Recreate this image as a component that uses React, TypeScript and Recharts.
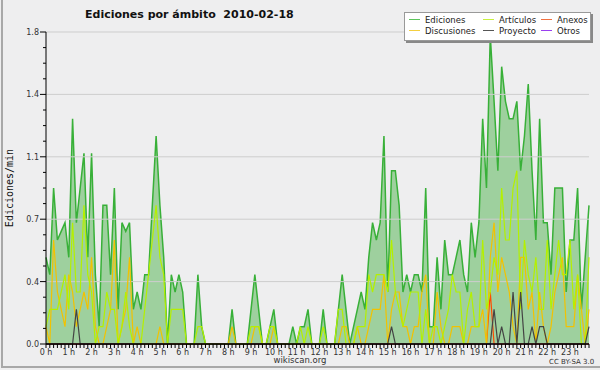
import { ComposedChart, Area, Line, XAxis, YAxis, ReferenceLine } from 'recharts';

// Ediciones por minuto, una muestra cada 10 minutos (144 por día)
const ediciones = [
  0.5, 0.4, 0.9, 0.6, 0.65, 0.7, 0.5, 1.3, 0.7, 0.9,
  1.1, 0.5, 1.1, 0.4, 0.1, 0.8, 0.8, 0.4, 0.9, 0.2,
  0.7, 0.65, 0.7, 0.2, 0.3, 0.2, 0.4, 0.4, 0.8, 1.2,
  0.8, 0.5, 0, 0.4, 0.3, 0.4, 0.3, 0, 0, 0,
  0.4, 0.1, 0, 0, 0, 0, 0, 0, 0, 0.2,
  0, 0, 0, 0, 0.2, 0.4, 0.2, 0, 0, 0.1,
  0.2, 0, 0, 0, 0, 0.1, 0, 0.1, 0.1, 0.2,
  0, 0, 0, 0.2, 0, 0, 0, 0.2, 0.4, 0.2,
  0, 0.1, 0.2, 0.3, 0.2, 0.5, 0.7, 0.6, 0.7, 1.2,
  0.3, 1.0, 1.0, 0.8, 0.3, 0.4, 0.3, 0.4, 0.4, 0.3,
  0.9, 0.1, 0.1, 0.5, 0.2, 0.6, 0.4, 0.4, 0.5, 0.6,
  0.4, 0.3, 0.7, 0.5, 0.7, 1.3, 0.9, 1.78, 1.4, 1.0,
  1.6, 1.4, 1.3, 1.3, 1.4, 1.0, 1.2, 1.5, 1.0, 0.6,
  1.3, 0.7, 0.7, 0.4, 0.9, 0.9, 0.9, 0.3, 0.6, 0.6,
  0.9, 0.2, 0.5, 0.8,
];

const articulos = [
  0.1, 0.2, 0.2, 0.2, 0.3, 0.4, 0.2, 0.7, 0.3, 0.3,
  0.8, 0.4, 0.3, 0, 0.1, 0.1, 0.3, 0.2, 0.2, 0,
  0.1, 0.3, 0.1, 0, 0, 0, 0.2, 0.4, 0.6, 0.8,
  0.5, 0.4, 0, 0.2, 0.2, 0.2, 0.2, 0, 0, 0,
  0.1, 0.1, 0, 0, 0, 0, 0, 0, 0, 0,
  0, 0, 0, 0, 0.1, 0.1, 0.1, 0, 0, 0.1,
  0.1, 0, 0, 0, 0, 0, 0, 0.1, 0, 0.1,
  0, 0, 0, 0.1, 0, 0, 0, 0.2, 0.2, 0,
  0, 0, 0.1, 0.1, 0.1, 0.4, 0.3, 0.4, 0.4, 0.4,
  0.3, 0.6, 0.3, 0.2, 0.1, 0.2, 0.3, 0.3, 0.3, 0,
  0.2, 0, 0.1, 0.1, 0, 0.1, 0.2, 0.4, 0.3, 0.3,
  0, 0.2, 0.3, 0.1, 0.1, 0.6, 0.2, 0.3, 0.5, 0.4,
  0.9, 0.6, 0.6, 0.9, 1.0, 0.2, 0.6, 0.4, 0.3, 0.5,
  0.2, 0.2, 0.6, 0.2, 0.4, 0.6, 0.4, 0.4, 0.6, 0.2,
  0.4, 0, 0, 0.5,
];

const discusiones = [
  0.1, 0, 0.6, 0.3, 0.2, 0.1, 0.4, 0.3, 0.1, 0.2,
  0.3, 0.2, 0.5, 0.1, 0, 0, 0.1, 0.2, 0.6, 0,
  0.1, 0.2, 0.5, 0, 0.1, 0, 0, 0, 0, 0,
  0.1, 0, 0, 0, 0, 0, 0, 0, 0, 0,
  0, 0, 0, 0, 0, 0, 0, 0, 0, 0.1,
  0, 0, 0, 0, 0, 0.1, 0.1, 0, 0, 0,
  0.1, 0, 0, 0, 0, 0, 0, 0, 0, 0,
  0, 0, 0, 0, 0, 0, 0, 0, 0.1, 0.1,
  0, 0, 0.1, 0, 0, 0.1, 0.2, 0.2, 0.2, 0.4,
  0, 0.2, 0.3, 0.3, 0.1, 0.1, 0, 0.1, 0.1, 0.3,
  0.4, 0, 0, 0.3, 0.1, 0, 0, 0.1, 0.1, 0.1,
  0, 0, 0.1, 0.1, 0.1, 0.2, 0, 0.5, 0.7, 0.3,
  0.5, 0.4, 0.3, 0.1, 0, 0.5, 0.5, 0.2, 0.3, 0,
  0.3, 0.1, 0, 0.1, 0.3, 0.4, 0.5, 0.1, 0.1, 0.1,
  0.4, 0.2, 0, 0.2,
];

// series casi vacías: solo se anotan las muestras distintas de cero
const anexosSpikes: Record<number, number> = { 117: 0.3 };
const proyectoSpikes: Record<number, number> = {
  8: 0.2, 91: 0.1, 118: 0.2, 120: 0.1, 123: 0.3, 125: 0.3, 128: 0.1, 130: 0.1, 131: 0.1, 143: 0.1,
};
const otrosSpikes: Record<number, number> = {};

const hourLabels = [
  '0 h', '1 h', '2 h', '3 h', '4 h', '5 h', '6 h', '7 h', '8 h', '9 h', '10 h', '11 h',
  '12 h', '13 h', '14 h', '15 h', '16 h', '17 h', '18 h', '19 h', '20 h', '21 h', '22 h', '23 h',
];
const yTicks = [
  0, 0.09, 0.18, 0.27, 0.36, 0.45, 0.54, 0.63, 0.72, 0.81, 0.9,
  0.99, 1.08, 1.17, 1.26, 1.35, 1.44, 1.53, 1.62, 1.71, 1.8,
];
const gridValues = [0.36, 0.72, 1.08, 1.44, 1.8];

const legendItems = [
  { name: 'Ediciones', color: '#5cc45c' },
  { name: 'Artículos', color: '#c8f040' },
  { name: 'Anexos', color: '#f07040' },
  { name: 'Discusiones', color: '#f4cf40' },
  { name: 'Proyecto', color: '#555555' },
  { name: 'Otros', color: '#9a40f0' },
];

const data = ediciones.map((v, i) => ({
  i,
  ediciones: v,
  articulos: articulos[i],
  discusiones: discusiones[i],
  anexos: anexosSpikes[i] ?? 0,
  proyecto: proyectoSpikes[i] ?? 0,
  otros: otrosSpikes[i] ?? 0,
}));
const xTicks = data.map((d) => d.i);

const SANS = '"DejaVu Sans", sans-serif';
const PLOT_LEFT = 46;
const PLOT_BOTTOM = 344;

function HourTick({ x, payload }: any) {
  const i = payload.value;
  const major = i % 6 === 0;
  return (
    <g>
      <line x1={x} x2={x} y1={PLOT_BOTTOM} y2={PLOT_BOTTOM + 4} stroke="#000" />
      {major && (
        <text x={x} y={PLOT_BOTTOM + 10.5} textAnchor="middle" fontSize={8} fontFamily={SANS} fill="#333">
          {hourLabels[i / 6]}
        </text>
      )}
    </g>
  );
}

function ValueTick({ y, payload }: any) {
  const k = Math.round(payload.value / 0.09);
  const major = k % 4 === 0;
  return (
    <g>
      <line x1={PLOT_LEFT - (major ? 6 : 3)} x2={PLOT_LEFT} y1={y} y2={y} stroke="#000" />
      {major && (
        <text x={39} y={y + 3} textAnchor="end" fontSize={8} fontFamily={SANS} fill="#333">
          {payload.value.toFixed(1)}
        </text>
      )}
    </g>
  );
}

export default function App() {
  return (
    <div style={{ position: 'absolute', left: 0, top: 0, width: 600, height: 370, background: '#eeeeef', overflow: 'hidden', fontFamily: SANS }}>
      <ComposedChart
        width={600}
        height={370}
        data={data}
        margin={{ top: 32, right: 11, bottom: 0, left: 0 }}
        style={{ position: 'absolute', left: 0, top: 0 }}
      >
        {gridValues.map((v) => (
          <ReferenceLine key={v} y={v} stroke="#cdcdcd" strokeWidth={1} />
        ))}
        <XAxis
          type="number"
          dataKey="i"
          domain={[0, 143]}
          ticks={xTicks}
          interval={0}
          tick={<HourTick />}
          tickLine={false}
          axisLine={{ stroke: '#000' }}
          height={26}
        />
        <YAxis
          type="number"
          domain={[0, 1.8]}
          ticks={yTicks}
          interval={0}
          tick={<ValueTick />}
          tickLine={false}
          axisLine={{ stroke: '#000' }}
          width={46}
        />
        <Area
          type="linear"
          dataKey="ediciones"
          stroke="#38b038"
          strokeWidth={1.5}
          fill="#3cab3c"
          fillOpacity={0.45}
          isAnimationActive={false}
        />
        <Line type="linear" dataKey="otros" stroke="#9a40f0" strokeWidth={1} dot={false} isAnimationActive={false} />
        <Line type="linear" dataKey="anexos" stroke="#ff4a00" strokeWidth={1.2} dot={false} isAnimationActive={false} />
        <Line type="linear" dataKey="discusiones" stroke="#f2c200" strokeWidth={1.2} dot={false} isAnimationActive={false} />
        <Line type="linear" dataKey="articulos" stroke="#b4f000" strokeWidth={1.2} dot={false} isAnimationActive={false} />
        <Line type="linear" dataKey="proyecto" stroke="#444444" strokeWidth={1.2} dot={false} isAnimationActive={false} />
        <ReferenceLine y={0} stroke="#000" strokeWidth={1} />
      </ComposedChart>

      <div style={{ position: 'absolute', left: 85, top: 8, fontSize: 11, fontWeight: 'bold', whiteSpace: 'pre', color: '#111' }}>
        {'Ediciones por ámbito  2010-02-18'}
      </div>

      <div
        style={{
          position: 'absolute', left: 9, top: 188, fontSize: 10, fontFamily: '"DejaVu Sans Mono", monospace',
          transform: 'translate(-50%, -50%) rotate(-90deg)', whiteSpace: 'nowrap', color: '#111',
        }}
      >
        Ediciones/min
      </div>

      <div
        style={{
          position: 'absolute', left: 404, top: 12, width: 185, height: 27, background: '#fff',
          border: '1px solid #999', boxShadow: '2px 2px 0 #888',
        }}
      >
        {legendItems.map((it, k) => {
          const col = k % 3;
          const row = Math.floor(k / 3);
          const lineX = [4, 78, 136][col];
          return (
            <div key={it.name} style={{ position: 'absolute', left: lineX, top: row * 11 + 1, height: 11, display: 'flex', alignItems: 'center', whiteSpace: 'nowrap' }}>
              <div style={{ width: 11, height: 1, background: it.color, marginRight: 5 }} />
              <span style={{ fontSize: 8.5, color: '#222' }}>{it.name}</span>
            </div>
          );
        })}
      </div>

      <div style={{ position: 'absolute', left: 0, width: 600, top: 355, textAlign: 'center', fontSize: 8.5, color: '#333' }}>
        wikiscan.org
      </div>
      <div style={{ position: 'absolute', left: 549, top: 358, fontSize: 7, color: '#333', whiteSpace: 'nowrap' }}>
        CC BY-SA 3.0
      </div>

      <div style={{ position: 'absolute', left: 1, top: 0, width: 2, height: 368, background: '#a8a8a8' }} />
      <div style={{ position: 'absolute', left: 1, top: 366, width: 599, height: 2, background: '#a8a8a8' }} />
    </div>
  );
}
